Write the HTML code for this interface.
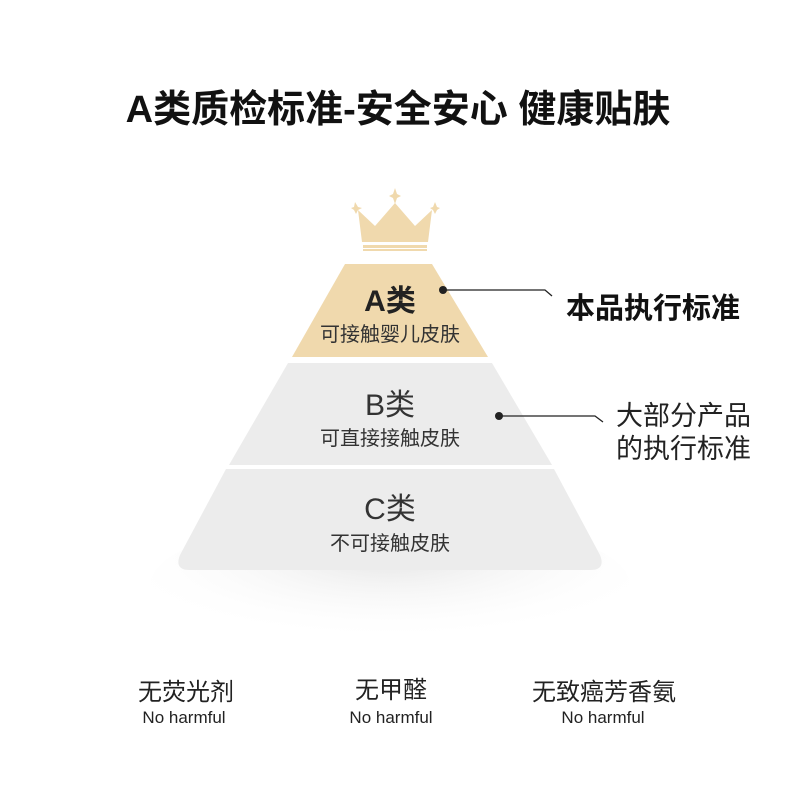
<!DOCTYPE html>
<html><head><meta charset="utf-8"><style>
body{margin:0;width:790px;height:808px;background:#fff;overflow:hidden;font-family:"Liberation Sans","Noto Sans CJK SC",sans-serif;position:relative}
.t{position:absolute;white-space:nowrap}
</style></head><body>
<div class="t" style="left:0;width:796px;top:78px;text-align:center;font-size:38px;font-weight:bold;color:#111">A类质检标准-安全安心 健康贴肤</div>
<svg width="790" height="808" style="position:absolute;left:0;top:0">
<defs><radialGradient id="sh" cx="0.5" cy="0.3" r="0.6"><stop offset="0" stop-color="#e6e6e6"/><stop offset="1" stop-color="#fff" stop-opacity="0"/></radialGradient></defs>
<ellipse cx="390" cy="585" rx="240" ry="70" fill="url(#sh)"/>
<g fill="#f0d9ad">
<polygon points="358,210 375,226 395,203 415,226 432,210 428,242 362,242"/>
<polygon points="395,188 397,194 401,196 397,198 395,204 393,198 389,196 393,194"/>
<polygon points="355,202 358,207 362,208 358,210 356,214 354,210 351,208 354,207" />
<polygon points="435,202 437,207 440,208 437,210 435,214 433,210 430,208 433,207"/>
<rect x="363" y="245" width="64" height="3"/>
<rect x="363" y="249" width="64" height="2"/>
</g>
<polygon points="345,264 432,264 488,357 292,357" fill="#f0d9ad"/>
<polygon points="288,363 492,363 552,465 229,465" fill="#ececec"/>
<path d="M226,469 L554,469 L600,555 Q606,570 590,570 L190,570 Q174,570 180,555 Z" fill="#ececec"/>
<g stroke="#222" stroke-width="1.3" fill="none">
<polyline points="442,290 545,290 552,296"/>
<polyline points="498,416 595,416 603,422"/>
</g>
<circle cx="443" cy="290" r="4" fill="#222"/>
<circle cx="499" cy="416" r="4" fill="#222"/>
</svg>
<div class="t" style="left:290px;width:200px;top:276px;text-align:center;font-size:30px;font-weight:bold;color:#222">A类</div>
<div class="t" style="left:290px;width:200px;top:318px;text-align:center;font-size:20px;color:#333">可接触婴儿皮肤</div>
<div class="t" style="left:290px;width:200px;top:380px;text-align:center;font-size:30px;color:#333">B类</div>
<div class="t" style="left:290px;width:200px;top:422px;text-align:center;font-size:20px;color:#333">可直接接触皮肤</div>
<div class="t" style="left:290px;width:200px;top:484px;text-align:center;font-size:30px;color:#333">C类</div>
<div class="t" style="left:290px;width:200px;top:527px;text-align:center;font-size:20px;color:#333">不可接触皮肤</div>
<div class="t" style="left:566px;top:285px;font-size:29px;font-weight:bold;color:#111">本品执行标准</div>
<div class="t" style="left:616px;top:400px;font-size:27px;line-height:33px;color:#222">大部分产品<br>的执行标准</div>
<div class="t" style="left:86px;width:200px;text-align:center;top:672px;font-size:24px;color:#222">无荧光剂</div>
<div class="t" style="left:84px;width:200px;text-align:center;top:708px;font-size:17px;color:#222">No harmful</div>
<div class="t" style="left:291px;width:200px;text-align:center;top:670px;font-size:24px;color:#222">无甲醛</div>
<div class="t" style="left:291px;width:200px;text-align:center;top:708px;font-size:17px;color:#222">No harmful</div>
<div class="t" style="left:504px;width:200px;text-align:center;top:672px;font-size:24px;color:#222">无致癌芳香氨</div>
<div class="t" style="left:503px;width:200px;text-align:center;top:708px;font-size:17px;color:#222">No harmful</div>
</body></html>
